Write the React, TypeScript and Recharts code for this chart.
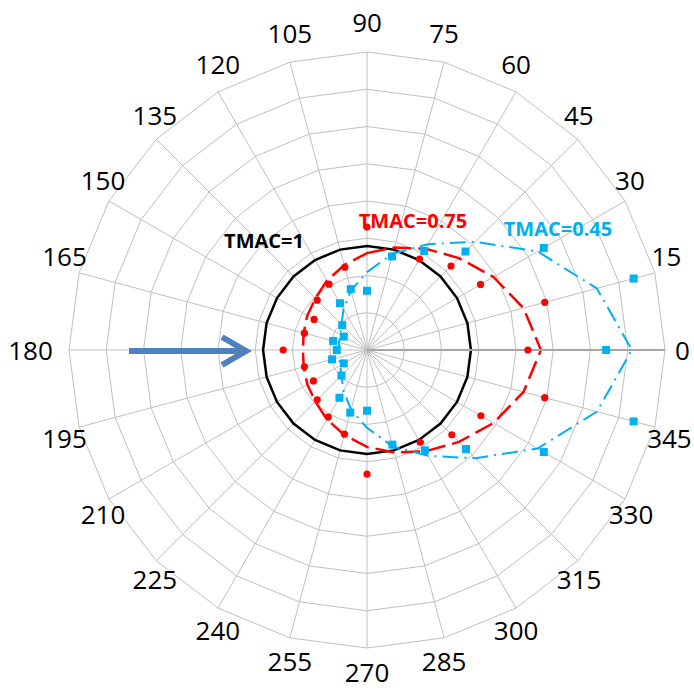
import { RadarChart, Radar, PolarGrid, PolarAngleAxis, PolarRadiusAxis } from 'recharts'

// polar angle categories in drawing order: clockwise from the top (90 deg)
const ANGLES = [90, 75, 60, 45, 30, 15, 0, 345, 330, 315, 300, 285, 270, 255, 240, 225, 210, 195, 180, 165, 150, 135, 120, 105]

// reference level TMAC = 1
const TMAC_1 = [2.79, 2.79, 2.79, 2.79, 2.79, 2.79, 2.79, 2.79, 2.79, 2.79, 2.79, 2.79, 2.79, 2.79, 2.79, 2.79, 2.79, 2.79, 2.79, 2.79, 2.79, 2.79, 2.79, 2.79]

// TMAC = 0.75 : measured points and model curve
const TMAC_075_PTS = [3.3, 2.6, 2.82, 3.19, 3.52, 4.94, 4.32, 4.94, 3.53, 3.22, 2.86, 2.63, 3.33, 2.34, 2.08, 1.89, 1.66, 1.74, 2.25, 1.74, 1.64, 1.89, 2.04, 2.3]
const TMAC_075_FIT = [2.6, 2.85, 3.14, 3.49, 3.92, 4.35, 4.67, 4.35, 3.92, 3.49, 3.14, 2.85, 2.6, 2.36, 2.15, 1.96, 1.85, 1.76, 1.72, 1.76, 1.85, 1.96, 2.15, 2.36]

// TMAC = 0.45 : measured points and model curve
const TMAC_045_PTS = [1.59, 2.6, 3.07, 3.74, 5.48, 7.41, 6.42, 7.41, 5.48, 3.76, 3.11, 2.63, 1.63, 1.74, 1.48, 0.97, 0.72, 0.97, 0.81, 0.94, 0.72, 0.94, 1.45, 1.69]
const TMAC_045_FIT = [2.09, 2.68, 3.28, 4.11, 5.29, 6.39, 7.11, 6.39, 5.29, 4.11, 3.28, 2.68, 2.09, 1.66, 1.26, 0.97, 0.83, 0.78, 0.75, 0.78, 0.83, 0.97, 1.26, 1.66]

const RADIUS_MAX = 8

const rows = ANGLES.map((a, i) => ({
  angle: String(a),
  ref: TMAC_1[i],
  redPts: TMAC_075_PTS[i],
  redFit: TMAC_075_FIT[i],
  bluePts: TMAC_045_PTS[i],
  blueFit: TMAC_045_FIT[i],
}))

const RED = '#ff0000'
const BLUE = '#00b0f0'
const ARROW = '#4f81bd'
const FONT = '"Open Sans", "Liberation Sans", sans-serif'

const W = 694
const H = 690
const CX = 367
const CY = 350
const R = 298
const TICK = 8

// angle labels: above/below the ring vertex, pushed sideways near the horizontal
function AngleTick(props: any) {
  const { x, y, payload } = props
  const rad = (payload.coordinate * Math.PI) / 180
  const c = Math.cos(rad)
  const s = Math.sin(rad)
  const vx = x - c * TICK
  const vy = y + s * TICK
  const label = String(payload.value)
  const hw = label.length * 7.5
  const side = Math.abs(c) < 1e-6 ? 0 : Math.sign(c)
  const dx = c * (hw * 0.4 + 7) * Math.pow(Math.abs(c), 6) + side * hw * Math.pow(1 - Math.abs(s), 8)
  let dy = 0
  if (s > 1e-6) dy = -(12 + 18 * s)
  else if (s < -1e-6) dy = 6 - 18 * s
  return (
    <text x={vx + dx} y={vy + dy} textAnchor="middle" dominantBaseline="central"
      fontFamily={FONT} fontSize={26} fill="#000">
      {label}
    </text>
  )
}

function RedDot(props: any) {
  if (props.cx == null) return <g key={props.index} />
  return <circle key={`r${props.index}`} cx={props.cx} cy={props.cy} r={3.6} fill={RED} />
}

function BlueSquare(props: any) {
  if (props.cx == null) return <g key={props.index} />
  return <rect key={`b${props.index}`} x={props.cx - 4} y={props.cy - 4} width={8} height={8} fill={BLUE} />
}

export default function App() {
  return (
    <div style={{ position: 'absolute', left: 0, top: 0, width: W, height: H }}>
      <RadarChart
        width={W}
        height={H}
        data={rows}
        cx={CX}
        cy={CY}
        outerRadius={R}
        margin={{ top: 0, right: 0, bottom: 0, left: 0 }}
      >
        <PolarGrid gridType="polygon" stroke="#bfbfbf" strokeWidth={1} />
        <PolarAngleAxis
          dataKey="angle"
          tick={AngleTick}
          tickLine={false}
          tickSize={TICK}
          axisLine={false}
        />
        <PolarRadiusAxis
          type="number"
          angle={0}
          domain={[0, RADIUS_MAX]}
          tickCount={9}
          tick={false}
          axisLine={{ stroke: '#a6a6a6', strokeWidth: 2 }}
        />
        <Radar dataKey="ref" stroke="#000" strokeWidth={2.5} fill="none" dot={false} isAnimationActive={false} />
        <Radar dataKey="redFit" stroke={RED} strokeWidth={2.5} strokeDasharray="19 7" fill="none" dot={false} isAnimationActive={false} />
        <Radar dataKey="redPts" stroke="none" fill="none" dot={RedDot} isAnimationActive={false} />
        <Radar dataKey="blueFit" stroke={BLUE} strokeWidth={2} strokeDasharray="16 6 2 6" fill="none" dot={false} isAnimationActive={false} />
        <Radar dataKey="bluePts" stroke="none" fill="none" dot={BlueSquare} isAnimationActive={false} />
      </RadarChart>

      {/* series labels and flow arrow */}
      <svg width={W} height={H} style={{ position: 'absolute', left: 0, top: 0, pointerEvents: 'none' }}>
        <g fontFamily={FONT} fontSize={20} fontWeight="bold" textAnchor="middle" dominantBaseline="central">
          <text x={264} y={240} fill="#000">TMAC=1</text>
          <text x={413} y={220} fill={RED}>TMAC=0.75</text>
          <text x={558} y={228} fill={BLUE}>TMAC=0.45</text>
        </g>
        <line x1={129} y1={351} x2={244} y2={351} stroke={ARROW} strokeWidth={6} />
        <polyline points="222,337 246,351 222,365" fill="none" stroke={ARROW} strokeWidth={6} />
      </svg>
    </div>
  )
}
